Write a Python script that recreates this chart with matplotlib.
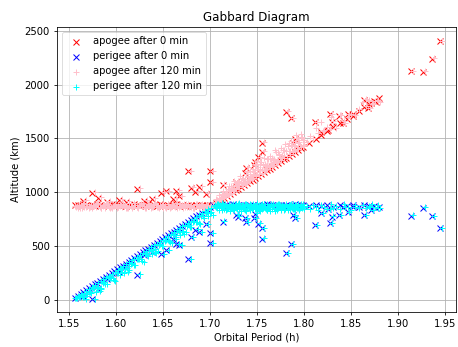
import matplotlib
matplotlib.use("Agg")
import matplotlib.pyplot as plt

# ---------------- 0 min: low-period branch (on the line) ----------------
period_low_0 = [1.556, 1.559, 1.562, 1.565, 1.568, 1.571, 1.574, 1.577, 1.580, 1.583,
                1.586, 1.589, 1.592, 1.595, 1.598, 1.601, 1.604, 1.607, 1.610, 1.613,
                1.616, 1.619, 1.622, 1.625, 1.628, 1.631, 1.634, 1.637, 1.640, 1.643,
                1.646, 1.649, 1.652, 1.655, 1.658, 1.661, 1.664, 1.667, 1.670, 1.673,
                1.676, 1.679, 1.682, 1.685, 1.688, 1.691, 1.694, 1.697, 1.700, 1.703]
apogee_low_0 = [878, 884, 872, 889, 876, 870, 882, 874, 886, 879,
                871, 883, 877, 890, 873, 880, 868, 885, 875, 881,
                872, 887, 878, 869, 883, 876, 891, 874, 880, 870,
                886, 877, 873, 884, 879, 871, 888, 875, 882, 869,
                878, 885, 873, 880, 876, 883, 871, 879, 884, 880]
perigee_low_0 = [20, 38, 55, 73, 90, 108, 125, 143, 160, 178,
                 196, 213, 231, 248, 266, 283, 301, 318, 336, 353,
                 371, 389, 406, 424, 441, 459, 476, 494, 511, 529,
                 547, 564, 582, 599, 617, 634, 652, 669, 687, 704,
                 722, 740, 757, 775, 792, 810, 827, 845, 862, 880]

# 0 min: low-period branch, scattered fragments
period_low_0_out = [1.565, 1.574, 1.581, 1.590, 1.603, 1.610, 1.622, 1.630, 1.638, 1.648, 1.653,
                    1.660, 1.664, 1.667, 1.676, 1.679, 1.684, 1.688, 1.695, 1.700, 1.700]
apogee_low_0_out = [922, 991, 944, 905, 925, 910, 1031, 915, 935, 991, 1006,
                    940, 1015, 960, 1192, 1037, 1000, 1052, 985, 1192, 1090]
perigee_low_0_out = [31, 5, 102, 195, 255, 311, 232, 418, 440, 425, 461,
                     560, 517, 508, 378, 583, 650, 631, 700, 523, 616]

# ---------------- 0 min: high-period branch (on the line) ----------------
period_high_0 = [1.706, 1.709, 1.712, 1.715, 1.718, 1.721, 1.724, 1.727, 1.730, 1.733,
                 1.736, 1.739, 1.742, 1.745, 1.748, 1.751, 1.754, 1.757, 1.760, 1.763,
                 1.766, 1.769, 1.772, 1.775, 1.778, 1.781, 1.784, 1.787, 1.790, 1.793,
                 1.796, 1.799, 1.805, 1.812, 1.818, 1.824, 1.831, 1.838, 1.845, 1.852,
                 1.858, 1.864, 1.869, 1.874, 1.879]
apogee_high_0 = [897, 914, 931, 948, 965, 982, 999, 1016, 1033, 1050,
                 1067, 1083, 1100, 1117, 1134, 1151, 1168, 1185, 1202, 1219,
                 1236, 1253, 1270, 1287, 1304, 1321, 1338, 1355, 1372, 1389,
                 1406, 1422, 1456, 1496, 1530, 1564, 1603, 1643, 1682, 1722,
                 1756, 1790, 1818, 1846, 1874]
perigee_high_0 = [880, 876, 884, 872, 882, 878, 886, 874, 881, 877,
                  883, 871, 879, 885, 875, 882, 873, 880, 887, 876,
                  881, 870, 884, 878, 875, 883, 872, 879, 886, 874,
                  880, 877, 868, 882, 874, 879, 866, 884, 871, 877,
                  862, 880, 869, 875, 858]

# 0 min: high-period branch, scattered fragments
period_high_0_out = [1.713, 1.727, 1.729, 1.737, 1.738, 1.747, 1.748, 1.751, 1.755, 1.755,
                     1.781, 1.786, 1.788, 1.790, 1.811, 1.818, 1.825, 1.827, 1.829, 1.837,
                     1.841, 1.846, 1.852, 1.864, 1.868, 1.871, 1.876, 1.914, 1.926, 1.936, 1.944]
apogee_high_0_out = [1068, 1090, 1075, 1180, 1223, 1250, 1284, 1323, 1461, 1377,
                     1748, 1687, 1454, 1497, 1650, 1563, 1578, 1724, 1656, 1708,
                     1640, 1724, 1708, 1857, 1780, 1826, 1841, 2123, 2117, 2241, 2402]
perigee_high_0_out = [727, 790, 773, 755, 724, 758, 800, 708, 569, 662,
                      430, 514, 786, 755, 693, 802, 840, 709, 771, 786,
                      863, 817, 863, 786, 863, 833, 850, 780, 857, 777, 662]

# ---------------- 120 min: low-period branch ----------------
period_low_120a = [1.557, 1.560, 1.563, 1.566, 1.569, 1.572, 1.575, 1.578, 1.581, 1.584,
                   1.587, 1.590, 1.593, 1.596, 1.599, 1.602, 1.605, 1.608, 1.611, 1.614,
                   1.617, 1.620, 1.623, 1.626, 1.629, 1.632, 1.635, 1.638, 1.641, 1.644,
                   1.647, 1.650, 1.653, 1.656, 1.659, 1.662, 1.665, 1.668, 1.671, 1.674,
                   1.677, 1.680, 1.683, 1.686, 1.689, 1.692, 1.695, 1.698, 1.701]
apogee_low_120a = [862, 885, 851, 895, 870, 858, 880, 866, 900, 854,
                   876, 889, 849, 868, 893, 860, 882, 872, 853, 897,
                   865, 878, 856, 887, 871, 850, 884, 863, 898, 858,
                   874, 891, 852, 867, 883, 861, 895, 870, 855, 886,
                   864, 879, 850, 892, 869, 857, 884, 872, 862]
perigee_low_120a = [16, 23, 31, 24, 56, 74, 106, 74, 116, 99,
                    166, 149, 207, 199, 177, 249, 282, 249, 292, 274,
                    342, 324, 382, 375, 352, 425, 457, 425, 467, 450,
                    517, 500, 558, 550, 528, 600, 633, 600, 643, 625,
                    693, 675, 733, 726, 703, 776, 808, 776, 818]
period_low_120b = [1.5585, 1.5615, 1.5645, 1.5675, 1.5705, 1.5735, 1.5765, 1.5795, 1.5825, 1.5855,
                   1.5885, 1.5915, 1.5945, 1.5975, 1.6005, 1.6035, 1.6065, 1.6095, 1.6125, 1.6155,
                   1.6185, 1.6215, 1.6245, 1.6275, 1.6305, 1.6335, 1.6365, 1.6395, 1.6425, 1.6455,
                   1.6485, 1.6515, 1.6545, 1.6575, 1.6605, 1.6635, 1.6665, 1.6695, 1.6725, 1.6755,
                   1.6785, 1.6815, 1.6845, 1.6875, 1.6905, 1.6935, 1.6965, 1.6995, 1.7025]
apogee_low_120b = [875, 856, 890, 864, 849, 882, 870, 897, 860, 878,
                   853, 888, 866, 874, 851, 893, 862, 880, 857, 871,
                   899, 859, 884, 868, 852, 890, 873, 861, 881, 855,
                   877, 866, 894, 850, 885, 869, 858, 879, 891, 863,
                   873, 852, 887, 866, 880, 856, 871, 860, 876]
perigee_low_120b = [15, 22, 25, 8, 75, 58, 112, 108, 85, 158,
                    150, 198, 201, 183, 251, 233, 288, 283, 261, 333,
                    326, 374, 376, 359, 426, 409, 463, 459, 436, 509,
                    502, 549, 552, 534, 602, 584, 639, 634, 612, 685,
                    677, 725, 727, 710, 777, 760, 814, 810, 787]
period_low_120c = [1.5563, 1.5593, 1.5623, 1.5653, 1.5683, 1.5713, 1.5743, 1.5773, 1.5803, 1.5833,
                   1.5863, 1.5893, 1.5923, 1.5953, 1.5983, 1.6013, 1.6043, 1.6073, 1.6103, 1.6133,
                   1.6163, 1.6193, 1.6223, 1.6253, 1.6283, 1.6313, 1.6343, 1.6373, 1.6403, 1.6433,
                   1.6463, 1.6493, 1.6523, 1.6553, 1.6583, 1.6613, 1.6643, 1.6673, 1.6703, 1.6733,
                   1.6763, 1.6793, 1.6823, 1.6853, 1.6883, 1.6913, 1.6943, 1.6973, 1.7003]
apogee_low_120c = [868, 852, 881, 859, 893, 864, 850, 877, 886, 855,
                   872, 897, 861, 849, 883, 866, 875, 891, 857, 870,
                   850, 884, 863, 878, 895, 859, 871, 852, 888, 866,
                   880, 854, 874, 892, 861, 869, 849, 886, 876, 858,
                   890, 865, 853, 879, 868, 894, 857, 882, 870]
perigee_low_120c = [14, 30, 49, 67, 84, 101, 119, 138, 154, 171,
                    189, 208, 224, 241, 260, 278, 295, 311, 330, 348,
                    365, 381, 400, 418, 435, 452, 470, 489, 505, 522,
                    540, 559, 575, 592, 611, 629, 646, 662, 681, 699,
                    716, 732, 751, 769, 786, 803, 821, 840, 856]
period_low_120_out = [1.568, 1.577, 1.584, 1.593, 1.606, 1.613, 1.625, 1.633, 1.641, 1.651, 1.656,
                      1.663, 1.667, 1.670, 1.679, 1.682, 1.687, 1.691, 1.698, 1.703, 1.703]
apogee_low_120_out = [930, 999, 952, 913, 933, 918, 1039, 923, 943, 999, 1014,
                      948, 1023, 968, 1200, 1045, 1008, 1060, 993, 1200, 1098]
perigee_low_120_out = [34, 8, 105, 198, 258, 314, 235, 421, 443, 428, 464,
                       563, 520, 511, 381, 586, 653, 634, 703, 526, 619]

# ---------------- 120 min: high-period branch ----------------
period_high_120 = [1.7045, 1.706, 1.7075, 1.709, 1.7105, 1.712, 1.7135, 1.715, 1.7165, 1.718,
                   1.7195, 1.721, 1.7225, 1.724, 1.7255, 1.727, 1.7285, 1.730, 1.7315, 1.733,
                   1.7345, 1.736, 1.7375, 1.739, 1.7405, 1.742, 1.7435, 1.745, 1.7465, 1.748,
                   1.7495, 1.751, 1.7525, 1.754, 1.7555, 1.757, 1.7585, 1.760, 1.7615, 1.763,
                   1.7645, 1.766, 1.7675, 1.769, 1.7705, 1.772, 1.7735, 1.775, 1.7765, 1.778,
                   1.7795, 1.781, 1.7825, 1.784, 1.7855, 1.787, 1.7885, 1.790, 1.7915, 1.793,
                   1.7945, 1.796, 1.7975, 1.799,
                   1.803, 1.806, 1.809, 1.812, 1.815, 1.818, 1.821, 1.824, 1.828, 1.831,
                   1.834, 1.838, 1.842, 1.846, 1.850, 1.854, 1.858, 1.862, 1.866, 1.869,
                   1.872, 1.875, 1.878, 1.881]
apogee_high_120 = [901, 937, 930, 974, 940, 976, 1014, 978, 1011, 985,
                   1058, 1020, 1055, 1021, 1102, 1066, 1054, 1103, 1146, 1092,
                   1118, 1091, 1165, 1198, 1140, 1170, 1144, 1217, 1188, 1259,
                   1183, 1231, 1215, 1278, 1207, 1320, 1266, 1252, 1306, 1339,
                   1273, 1321, 1304, 1393, 1291, 1375, 1353, 1412, 1347, 1394,
                   1452, 1386, 1429, 1378, 1476, 1435, 1473, 1427, 1530, 1484,
                   1467, 1540, 1514, 1482,
                   1470, 1520, 1505, 1600, 1545, 1650, 1575, 1610, 1700, 1640,
                   1600, 1715, 1660, 1700, 1730, 1715, 1770, 1840, 1800, 1860,
                   1815, 1845, 1855, 1835]
perigee_high_120 = [885, 862, 893, 848, 876, 835, 889, 858, 870, 842,
                    881, 826, 866, 894, 851, 874, 839, 887, 860, 829,
                    878, 845, 891, 856, 868, 833, 884, 850, 872, 840,
                    895, 861, 827, 880, 846, 889, 857, 836, 873, 864,
                    888, 843, 869, 822, 882, 854, 892, 838, 876, 859,
                    847, 885, 831, 870, 894, 852, 878, 841, 866, 887,
                    835, 874, 856, 890,
                    871, 846, 884, 858, 832, 877, 862, 840, 889, 851,
                    873, 845, 886, 862, 838, 878, 856, 885, 848, 872,
                    890, 860, 876, 852]
period_high_120b = [1.7052, 1.7067, 1.7082, 1.7097, 1.7112, 1.7127, 1.7142, 1.7157, 1.7172, 1.7187,
                    1.7202, 1.7217, 1.7232, 1.7247, 1.7262, 1.7277, 1.7292, 1.7307, 1.7322, 1.7337,
                    1.7352, 1.7367, 1.7382, 1.7397, 1.7412, 1.7427, 1.7442, 1.7457, 1.7472, 1.7487,
                    1.7502, 1.7517, 1.7532, 1.7547, 1.7562, 1.7577, 1.7592, 1.7607, 1.7622, 1.7637,
                    1.7652, 1.7667, 1.7682, 1.7697, 1.7712, 1.7727, 1.7742, 1.7757, 1.7772, 1.7787,
                    1.7802, 1.7817, 1.7832, 1.7847, 1.7862, 1.7877, 1.7892, 1.7907, 1.7922, 1.7937,
                    1.7952, 1.7967, 1.7982, 1.7997]
apogee_high_120b = [900, 923, 914, 948, 938, 983, 953, 987, 975, 1031,
                    985, 1014, 1039, 1015, 1081, 1040, 1083, 1047, 1083, 1133,
                    1077, 1120, 1087, 1152, 1121, 1194, 1125, 1163, 1205, 1156,
                    1205, 1165, 1259, 1202, 1249, 1204, 1246, 1311, 1237, 1305,
                    1241, 1300, 1283, 1372, 1283, 1346, 1327, 1303, 1394, 1338,
                    1381, 1335, 1453, 1382, 1435, 1379, 1427, 1505, 1399, 1467,
                    1436, 1514, 1430, 1481]
perigee_high_120b = [872, 850, 888, 838, 865, 895, 845, 878, 830, 861,
                     890, 855, 873, 836, 884, 848, 868, 897, 842, 876,
                     858, 887, 828, 870, 852, 892, 839, 881, 863, 846,
                     879, 834, 866, 890, 853, 875, 843, 886, 860, 824,
                     871, 894, 849, 878, 837, 864, 885, 852, 870, 832,
                     889, 858, 876, 844, 867, 893, 839, 880, 855, 871,
                     848, 884, 862, 842]
period_high_120c = [1.7065, 1.7095, 1.7125, 1.7155, 1.7185, 1.7215, 1.7245, 1.7275, 1.7305, 1.7335,
                    1.7365, 1.7395, 1.7425, 1.7455, 1.7485, 1.7515, 1.7545, 1.7575, 1.7605, 1.7635,
                    1.7665, 1.7695, 1.7725, 1.7755, 1.7785, 1.7815, 1.7845, 1.7875, 1.7905, 1.7935,
                    1.7965, 1.7995]
apogee_high_120c = [910, 927, 945, 961, 977, 996, 1012, 1028, 1047, 1063,
                    1080, 1095, 1114, 1130, 1146, 1165, 1181, 1197, 1216, 1232,
                    1248, 1267, 1283, 1299, 1318, 1334, 1350, 1369, 1385, 1401,
                    1419, 1435]
perigee_high_120c = [868, 884, 852, 891, 861, 877, 843, 889, 856, 872,
                     838, 882, 865, 894, 849, 876, 860, 887, 833, 870,
                     880, 857, 892, 846, 874, 863, 885, 840, 878, 853,
                     889, 866]
period_high_120_out = [1.715, 1.729, 1.731, 1.739, 1.740, 1.749, 1.750, 1.753, 1.757, 1.757,
                       1.783, 1.788, 1.790, 1.792, 1.813, 1.820, 1.827, 1.829, 1.831, 1.839,
                       1.843, 1.848, 1.854, 1.866, 1.870, 1.873, 1.878, 1.916, 1.928, 1.938, 1.946]
apogee_high_120_out = [1074, 1096, 1081, 1186, 1229, 1256, 1290, 1329, 1467, 1383,
                       1754, 1693, 1460, 1503, 1656, 1569, 1584, 1730, 1662, 1714,
                       1646, 1730, 1714, 1863, 1786, 1832, 1847, 2129, 2123, 2247, 2408]
perigee_high_120_out = [730, 793, 776, 758, 727, 761, 803, 711, 572, 665,
                        433, 517, 789, 758, 696, 805, 843, 712, 774, 789,
                        866, 820, 866, 789, 866, 836, 853, 783, 860, 780, 665]

labels = ["apogee after 0 min", "perigee after 0 min",
          "apogee after 120 min", "perigee after 120 min"]

# ---------------- assemble ----------------
period_0 = period_low_0 + period_low_0_out + period_high_0 + period_high_0_out
apogee_0 = apogee_low_0 + apogee_low_0_out + apogee_high_0 + apogee_high_0_out
perigee_0 = perigee_low_0 + perigee_low_0_out + perigee_high_0 + perigee_high_0_out
period_120 = (period_low_120a + period_low_120b + period_low_120c + period_low_120_out
              + period_high_120 + period_high_120b + period_high_120c + period_high_120_out)
apogee_120 = (apogee_low_120a + apogee_low_120b + apogee_low_120c + apogee_low_120_out
              + apogee_high_120 + apogee_high_120b + apogee_high_120c + apogee_high_120_out)
perigee_120 = (perigee_low_120a + perigee_low_120b + perigee_low_120c + perigee_low_120_out
               + perigee_high_120 + perigee_high_120b + perigee_high_120c + perigee_high_120_out)

k = 0.716
plt.rcParams['font.family'] = ['DejaVu Sans']
plt.rcParams['font.size'] = 10 * k

fig = plt.figure(figsize=(4.58, 3.47), dpi=100)
ax = fig.add_axes([0.1238, 0.1009, 0.8729, 0.8204])

s = (6 * k) ** 2
lw = 1.0 * k
ax.scatter(period_0, apogee_0, marker='x', color='red', s=s, linewidths=lw, label=labels[0])
ax.scatter(period_0, perigee_0, marker='x', color='blue', s=s, linewidths=lw, label=labels[1])
ax.scatter(period_120, apogee_120, marker='+', color='pink', s=s, linewidths=lw, label=labels[2])
ax.scatter(period_120, perigee_120, marker='+', color='cyan', s=s, linewidths=lw, label=labels[3])

ax.set_xlim(1.5366, 1.9619)
ax.set_ylim(-114, 2532)
ax.set_xticks([1.55, 1.60, 1.65, 1.70, 1.75, 1.80, 1.85, 1.90, 1.95])
ax.set_yticks([0, 500, 1000, 1500, 2000, 2500])
ax.grid(True, color='#b0b0b0', linewidth=0.8 * k)
ax.set_axisbelow(True)
for sp in ax.spines.values():
    sp.set_linewidth(0.8 * k)
ax.tick_params(length=3.5 * k, width=0.8 * k, pad=3.5 * k, labelsize=10 * k)
ax.set_xlabel("Orbital Period (h)", fontsize=10 * k, labelpad=4 * k)
ax.set_ylabel("Altitude (km)", fontsize=10 * k, labelpad=4 * k)
ax.set_title("Gabbard Diagram", fontsize=12 * k, pad=6 * k)
leg = ax.legend(loc='upper left', fontsize=10 * k, borderpad=0.4, labelspacing=0.5,
                handlelength=2.0, handletextpad=0.8, borderaxespad=0.5)
leg.get_frame().set_linewidth(0.8 * k)

fig.savefig("out.png", dpi=100)
